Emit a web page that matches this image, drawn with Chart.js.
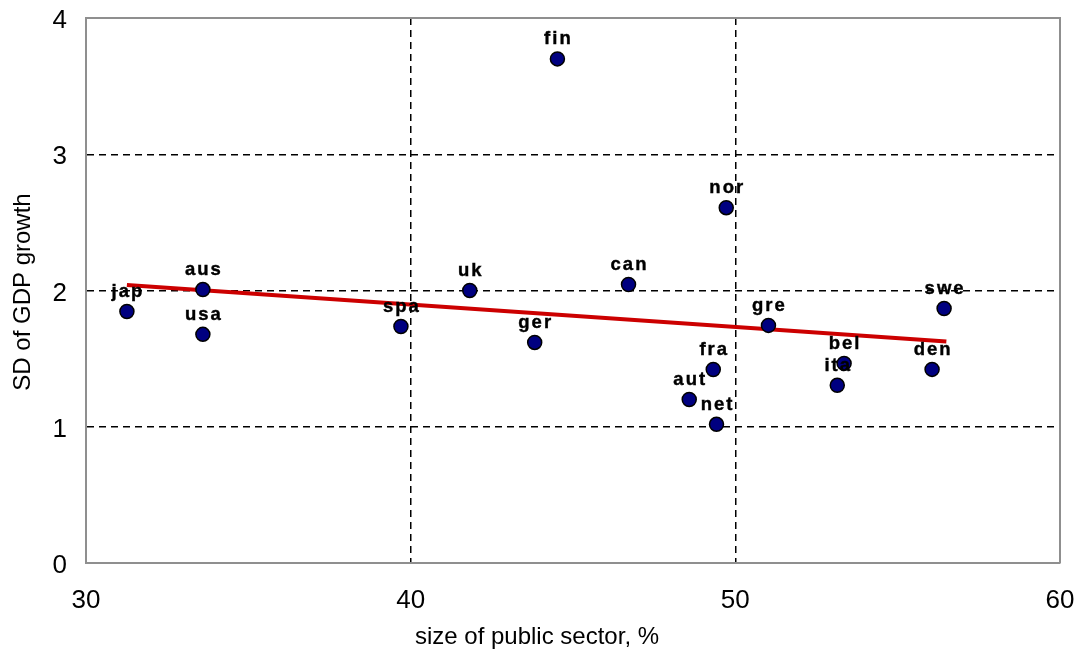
<!DOCTYPE html>
<html>
<head>
<meta charset="utf-8">
<script src="https://cdn.jsdelivr.net/npm/chart.js@4/dist/chart.umd.min.js"></script>
<style>
  html, body { margin: 0; padding: 0; background: #ffffff; }
  #wrap { width: 1082px; height: 653px; }
</style>
</head>
<body>
<div id="wrap"><canvas id="chart" width="1082" height="653"></canvas></div>
<script>
// Country codes and their public-sector size (%) vs. SD of GDP growth
const countries = ['jap', 'aus', 'usa', 'spa', 'uk', 'ger', 'fin', 'can', 'aut', 'fra', 'net', 'nor', 'gre', 'ita', 'bel', 'den', 'swe'];
const publicSector = [31.26, 33.6, 33.6, 39.7, 41.82, 43.82, 44.52, 46.71, 48.58, 49.32, 49.42, 49.72, 51.02, 53.14, 53.35, 56.06, 56.43];
const gdpGrowthSD = [1.846, 2.007, 1.678, 1.736, 2.0, 1.619, 3.70, 2.044, 1.20, 1.42, 1.018, 2.608, 1.744, 1.304, 1.465, 1.421, 1.868];

// Fitted trend line end points
const trendX = [31.26, 56.5];
const trendY = [2.04, 1.626];

// Axis ranges and ticks
const xTicks = [30, 40, 50, 60];
const yTicks = [0, 1, 2, 3, 4];

const FONT = 'Arial, "Liberation Sans", Helvetica, sans-serif';

const pointData = publicSector.map((x, i) => ({ x: x, y: gdpGrowthSD[i] }));
const trendData = trendX.map((x, i) => ({ x: x, y: trendY[i] }));

// Frame, country labels and axis titles
const decorations = {
  id: 'decorations',
  afterDatasetsDraw(chart) {
    const ctx = chart.ctx;
    const xs = chart.scales.x, ys = chart.scales.y;
    ctx.save();
    ctx.font = 'bold 18.5px ' + FONT;
    ctx.fillStyle = '#000000';
    ctx.strokeStyle = '#000000';
    ctx.lineWidth = 0.4;
    ctx.textAlign = 'center';
    ctx.textBaseline = 'alphabetic';
    if ('letterSpacing' in ctx) ctx.letterSpacing = '2px';
    countries.forEach((name, i) => {
      const px = xs.getPixelForValue(publicSector[i]);
      const py = ys.getPixelForValue(gdpGrowthSD[i]);
      ctx.fillText(name, px + 1, py - 14.5);
      ctx.strokeText(name, px + 1, py - 14.5);
    });
    ctx.restore();
  },
  afterDraw(chart) {
    const ctx = chart.ctx;
    const a = chart.chartArea;
    ctx.save();
    // top and right frame edges
    ctx.strokeStyle = '#8f8f8f';
    ctx.lineWidth = 2;
    ctx.beginPath();
    ctx.moveTo(a.left, a.top);
    ctx.lineTo(a.right, a.top);
    ctx.lineTo(a.right, a.bottom);
    ctx.stroke();

    ctx.fillStyle = '#000000';
    ctx.font = '24px ' + FONT;
    ctx.textAlign = 'center';
    ctx.textBaseline = 'middle';
    ctx.fillText('size of public sector, %', 537, 637);
    ctx.translate(23, 292);
    ctx.rotate(-Math.PI / 2);
    ctx.fillText('SD of GDP growth', 0, 0);
    ctx.restore();
  }
};

const gridColor = (edgeValues) => (c) => {
  if (c.tick && edgeValues.includes(c.tick.value)) return 'rgba(0,0,0,0)';
  return '#000000';
};

new Chart(document.getElementById('chart'), {
  type: 'scatter',
  data: {
    datasets: [
      {
        label: 'countries',
        data: pointData,
        backgroundColor: '#000080',
        borderColor: '#000000',
        borderWidth: 1.5,
        pointRadius: 7,
        pointHoverRadius: 7,
        order: 0
      },
      {
        label: 'trend',
        data: trendData,
        showLine: true,
        borderColor: '#cc0000',
        borderWidth: 4,
        pointRadius: 0,
        fill: false,
        order: 1
      }
    ]
  },
  options: {
    responsive: false,
    animation: false,
    devicePixelRatio: 1,
    layout: { padding: { top: 18, right: 22, left: 0, bottom: 0 } },
    plugins: {
      legend: { display: false },
      tooltip: { enabled: false }
    },
    scales: {
      x: {
        type: 'linear',
        min: xTicks[0],
        max: xTicks[xTicks.length - 1],
        afterBuildTicks(scale) { scale.ticks = xTicks.map(v => ({ value: v })); },
        afterFit(scale) {
          scale.height = 90;
          scale.paddingLeft = 0;
          scale.paddingRight = 0;
        },
        ticks: {
          font: { family: FONT, size: 26 },
          color: '#000000',
          padding: 22,
          maxRotation: 0
        },
        grid: {
          color: gridColor([30, 60]),
          lineWidth: 1.5,
          drawTicks: false
        },
        border: { display: true, color: '#8f8f8f', width: 2, dash: [7, 5] }
      },
      y: {
        type: 'linear',
        min: yTicks[0],
        max: yTicks[yTicks.length - 1],
        afterBuildTicks(scale) { scale.ticks = yTicks.map(v => ({ value: v })); },
        afterFit(scale) {
          scale.width = 86;
          scale.paddingTop = 0;
          scale.paddingBottom = 0;
        },
        ticks: {
          font: { family: FONT, size: 26 },
          color: '#000000',
          padding: 19,
          labelOffset: 3
        },
        grid: {
          color: gridColor([0, 4]),
          lineWidth: 1.5,
          drawTicks: false
        },
        border: { display: true, color: '#8f8f8f', width: 2, dash: [7, 5] }
      }
    }
  },
  plugins: [decorations]
});
</script>
</body>
</html>
